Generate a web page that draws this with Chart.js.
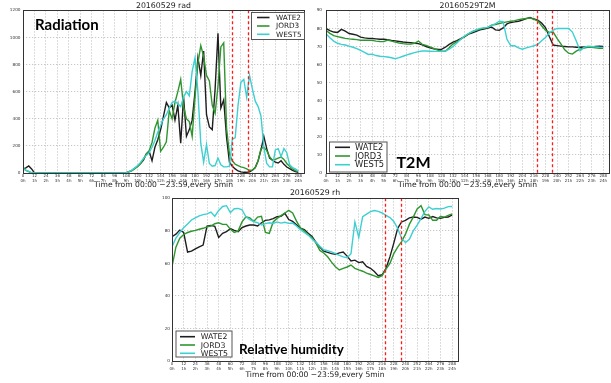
<!DOCTYPE html>
<html><head><meta charset="utf-8">
<script src="https://cdn.jsdelivr.net/npm/chart.js@4.4.0/dist/chart.umd.min.js"></script>
<style>
html,body{margin:0;padding:0;background:#fff;width:611px;height:383px;overflow:hidden;position:relative}
canvas{position:absolute;display:block}
.tag{position:absolute;font-family:Lato,'Open Sans',sans-serif;font-weight:700;color:#000;white-space:nowrap;line-height:1}
</style></head><body>
<canvas id="c1" width="306" height="190" style="left:0;top:0"></canvas>
<canvas id="c2" width="305" height="190" style="left:306px;top:0"></canvas>
<canvas id="c3" width="300" height="196" style="left:160px;top:186px"></canvas>
<div class="tag" style="left:35px;top:16.5px;font-size:15px">Radiation</div>
<div class="tag" style="left:396.5px;top:154px;font-size:16px">T2M</div>
<div class="tag" style="left:239px;top:342.7px;font-size:13.5px">Relative humidity</div>
<script>
// ---------- data ----------
const stations = ['WATE2', 'JORD3', 'WEST5'];
const xTicks = [0,12,24,36,48,60,72,84,96,108,120,132,144,156,168,180,192,204,216,228,240,252,264,276,288];
const hourLabels = ['0h','1h','2h','3h','4h','5h','6h','7h','8h','9h','10h','11h','12h','13h','14h','15h','16h','17h','18h','19h','20h','21h','22h','23h','24h'];
const eventTimes = [219, 235];

const radTime = [0,3,6,9,12,15,18,21,24,27,30,33,36,39,42,45,48,51,54,57,60,63,66,69,72,75,78,81,84,87,90,93,96,99,102,105,108,111,114,117,120,123,126,129,132,135,138,141,144,147,150,153,156,159,162,165,168,171,174,177,180,183,186,189,192,195,198,201,204,207,210,213,216,219,222,225,228,231,234,237,240,243,246,249,252,255,258,261,264,267,270,273,276,279,282,285,288];
const radWATE2 = [30,38,52,30,0, 0,0,0,0,0,0,0,0,0,0,0,0,0,0,0,0,0,0,0,0,0,0,0,0,0,0,0,0,0,0,0,
  3,10,20,35,50,70,95,140,160,90,190,245,320,420,520,480,500,390,500,220,560,270,320,390,600,850,720,900,430,340,320,620,1030,480,540,260,80,50,30,15,8,5,5,8,20,40,90,170,270,180,110,94,80,74,90,64,44,32,20,10,5];
const radJORD3 = [35,20,10,0,0, 0,0,0,0,0,0,0,0,0,0,0,0,0,0,0,0,0,0,0,0,0,0,0,0,0,0,0,0,0,0,0,
  3,8,18,32,48,72,100,140,165,225,330,390,160,190,230,460,400,520,600,690,490,400,380,270,560,810,940,860,720,680,500,440,640,930,960,330,140,90,65,55,45,40,30,20,22,40,90,180,190,165,120,95,100,110,118,100,70,50,30,18,12];
const radWEST5 = [35,22,12,2,0, 0,0,0,0,0,0,0,0,0,0,0,0,0,0,0,0,0,0,0,0,0,0,0,0,0,0,0,0,0,0,0,
  3,10,22,38,55,78,108,130,150,190,240,300,350,400,430,480,520,530,510,490,560,600,570,750,850,600,220,80,210,70,50,55,110,60,45,45,50,250,260,500,670,690,560,720,620,530,490,420,190,70,45,45,170,180,120,180,150,60,40,30,15];

const hourTime = [0,4,8,12,16,20,24,28,32,36,40,44,48,52,56,60,64,68,72,76,80,84,88,92,96,100,104,108,112,116,120,124,128,132,136,140,144,148,152,156,160,164,168,172,176,180,184,188,192,196,200,204,208,212,216,220,224,228,232,236,240,244,248,252,256,260,264,268,272,276,280,284,288];
const t2mWATE2 = [80,78.8,78,77.8,79.5,78.5,77.2,76.8,76.3,75.2,74.8,74.5,74.4,74.2,74,74,73.8,73.4,73.1,72.8,72.5,72.3,72.1,71.8,71.6,70.9,70,69.3,68.7,68.5,68.4,69.6,71.2,72.4,73.2,74.3,75.5,76.8,77.6,78.4,79.2,79.6,80.2,80.8,79.2,79,80.3,82.5,83.3,83.6,84,84.6,85.4,86,85.2,84.6,83,80.5,75.5,70.8,70.5,70.2,70,69.8,69.8,69.6,69.6,69.7,69.6,69.7,70,70.2,70];
const t2mJORD3 = [79,77.3,76,75.5,75,74.5,74.2,74,73.8,73.5,73.5,73.5,73.4,73,72.8,72.7,73.6,73,72.4,71.9,71.6,71.4,71.3,71.8,73,71.2,70.6,69.8,68.9,68,67.5,67.3,69.3,71.5,72.6,74,75.5,77,78.2,79,79.6,80.2,80.6,81.8,82.2,82.7,83.2,83.6,84,84.3,84.9,85.2,85.5,85.8,85,84.2,81.5,79,77.8,78,74.5,71.5,68.2,66.3,65.8,67.4,68.5,69.2,69.5,69.5,69.3,69,69];
const t2mWEST5 = [77,74.8,73,71.8,71.2,70.8,70.2,69.6,68.8,67.8,66.8,65.6,65.8,65,64.6,64.4,64.2,63.8,63.2,63.8,64.6,65.4,66,66.6,67.2,67.5,67.5,67.4,67.3,67.3,67.3,67.5,68.5,70,72,74,75.8,77.2,78.2,79.2,80,80.3,80.6,81.5,82.6,84,83.8,74,70.4,70.4,69.2,68.5,69.2,69.8,70.4,71.2,73.2,75,77.5,79,80,80,80,80,78,73,67.6,69.5,70.2,70,69.8,69.6,69.5];

const rhWATE2 = [76.4,78,80.5,79,67,67.6,69,70.2,71.3,83,83.4,82.8,76,78.5,79.5,81.4,80.3,79.5,82,83,83.6,83.6,83,85,86.5,86.8,87.5,88.7,89,90.8,87,85.8,83.8,81.7,80.8,78.5,76.5,73,70,67.5,66.8,66,65.6,66.5,67,64.5,61.5,62,60.5,61,58.2,57,55,52.5,53,57,64,72.5,81.6,85.5,86.5,88,88.5,88.3,87.2,88.5,87.7,88.8,88,87.7,88.3,88.5,89.8];
const rhJORD3 = [58,70,75.5,77.8,79,79.8,80.3,81,81.6,82.5,83,84.4,85,84,84,81,79,80,85.5,88.7,88,85.8,88.5,89,79,78.5,85.5,87.7,89.4,91,92.6,91,86,81.8,80,77.6,75.8,72.5,68,66.4,64.1,60.8,58,56,57,57.8,59,57,56,55.2,54,53.2,52.3,51.4,52.5,56.5,60,66,70,73.4,78,84,88.5,93.5,95.5,90,89.8,86.5,86.5,89,88.5,89.5,90.5];
const rhWEST5 = [70.3,75.5,79,82,84.2,86.7,88,89.2,90,90.5,91.6,89,92.6,95,95.5,91.2,93.6,93.8,93,88.7,86.9,85.7,85,83.6,84.5,85,84.6,85.5,84.8,85.3,84.6,84.8,83,80.8,79,77.4,75,73,70.5,68.4,67.8,67.1,66,65,64,63.5,66,85.5,76,88.7,90.3,91.8,92.5,92,91,89.6,88.2,85.8,81.6,75.5,72.8,74.8,80,83.5,87.5,92,94.8,93.3,93.8,93.5,94,94.9,95];

// ---------- style ----------
const colors = ['#1e1e1e', '#2f962f', '#3dcfd2'];
Chart.defaults.font.family = "'DejaVu Sans', sans-serif";
Chart.defaults.color = '#222';

const deco = {
  id: 'deco',
  afterDatasetsDraw(chart, args, opts) {
    const {ctx, chartArea: a, scales: {x}} = chart;
    ctx.save();
    ctx.strokeStyle = '#ff1a1a';
    ctx.lineWidth = 1.3;
    ctx.setLineDash([3, 2.5]);
    for (const v of eventTimes) {
      const px = Math.round(x.getPixelForValue(v)) + 0.5;
      ctx.beginPath(); ctx.moveTo(px, a.top); ctx.lineTo(px, a.bottom); ctx.stroke();
    }
    ctx.setLineDash([]);
    ctx.strokeStyle = '#333';
    ctx.lineWidth = 1;
    ctx.strokeRect(Math.round(a.left) + 0.5, Math.round(a.top) + 0.5, Math.round(a.right - a.left), Math.round(a.bottom - a.top));
    const L = opts.legend;
    ctx.fillStyle = '#fff';
    ctx.fillRect(L.x, L.y, L.w, L.h);
    ctx.strokeStyle = '#555';
    ctx.lineWidth = 1;
    ctx.strokeRect(L.x + 0.5, L.y + 0.5, L.w, L.h);
    ctx.font = L.font + "px 'DejaVu Sans', sans-serif";
    ctx.textBaseline = 'middle';
    chart.data.datasets.forEach((ds, i) => {
      const yy = L.rows[i];
      ctx.strokeStyle = ds.borderColor;
      ctx.lineWidth = 1.6;
      ctx.beginPath(); ctx.moveTo(L.l0, yy); ctx.lineTo(L.l1, yy); ctx.stroke();
      ctx.fillStyle = '#222';
      ctx.fillText(ds.label, L.tx, yy + 0.5);
    });
    ctx.restore();
  }
};

function makeChart(id, cfg) {
  const series = cfg.series;
  return new Chart(document.getElementById(id), {
    type: 'line',
    data: {
      datasets: series.map((vals, i) => ({
        label: stations[i],
        data: cfg.time.map((t, k) => ({x: t, y: vals[k]})),
        borderColor: colors[i],
        borderWidth: 1.4,
        pointRadius: 0,
        tension: 0,
        order: 2 - i
      }))
    },
    options: {
      responsive: false,
      animation: false,
      events: [],
      layout: {padding: {left: 0, right: 2, top: 0, bottom: 0}},
      plugins: {
        legend: {display: false},
        tooltip: {enabled: false},
        title: {display: true, text: cfg.title, fullSize: false, color: '#222',
          font: {size: 7.8, weight: 'normal'}, padding: cfg.titlePad},
        deco: {legend: cfg.legend}
      },
      scales: {
        x: {
          type: 'linear', min: 0, max: 294,
          afterBuildTicks: s => { s.ticks = xTicks.map(v => ({value: v})); },
          afterFit: s => { s.height = cfg.xh; },
          ticks: {autoSkip: false, maxRotation: 0, padding: 1, color: '#333',
            font: {size: 4, lineHeight: 1.1},
            callback: (v, i) => [String(xTicks[i]), hourLabels[i]]},
          grid: {color: '#b8b8b8', lineWidth: 0.8, drawTicks: false},
          border: {display: false, dash: [1.2, 1.8]},
          title: {display: true, text: 'Time from 00:00 \u221223:59,every 5min', color: '#222',
            font: {size: 7.6}, padding: {top: 0, bottom: cfg.xtPad}}
        },
        y: {
          min: 0, max: cfg.ymax,
          afterFit: s => { s.width = cfg.yw; },
          ticks: {stepSize: cfg.ystep, padding: cfg.ypad, color: '#333', font: {size: 4.2},
            callback: v => String(v)},
          grid: {color: '#b8b8b8', lineWidth: 0.8, drawTicks: false},
          border: {display: false, dash: [1.2, 1.8]}
        }
      }
    },
    plugins: [deco]
  });
}

makeChart('c1', {
  time: radTime, series: [radWATE2, radJORD3, radWEST5],
  title: '20160529 rad', titlePad: {top: 1, bottom: 0},
  ymax: 1200, ystep: 200, yw: 23, ypad: 2.5, xh: 17, xtPad: 0,
  legend: {x: 251, y: 12, w: 53, h: 27, rows: [17.5, 26, 34.3], l0: 257, l1: 269.5, tx: 276, font: 7.3}
});
makeChart('c2', {
  time: hourTime, series: [t2mWATE2, t2mJORD3, t2mWEST5],
  title: '20160529T2M', titlePad: {top: 1, bottom: 0},
  ymax: 90, ystep: 10, yw: 20, ypad: 4, xh: 17, xtPad: 0,
  legend: {x: 23, y: 141.5, w: 57.5, h: 30, rows: [147.3, 156, 164.7], l0: 29, l1: 44, tx: 49, font: 8.3}
});
makeChart('c3', {
  time: hourTime, series: [rhWATE2, rhJORD3, rhWEST5],
  title: '20160529 rh', titlePad: {top: 2, bottom: 1},
  ymax: 100, ystep: 20, yw: 12, ypad: 2, xh: 21, xtPad: 2.5,
  legend: {x: 15.5, y: 144.5, w: 56, h: 26, rows: [150.7, 159, 167.3], l0: 20, l1: 35, tx: 40.7, font: 7.8}
});
</script>
</body></html>
